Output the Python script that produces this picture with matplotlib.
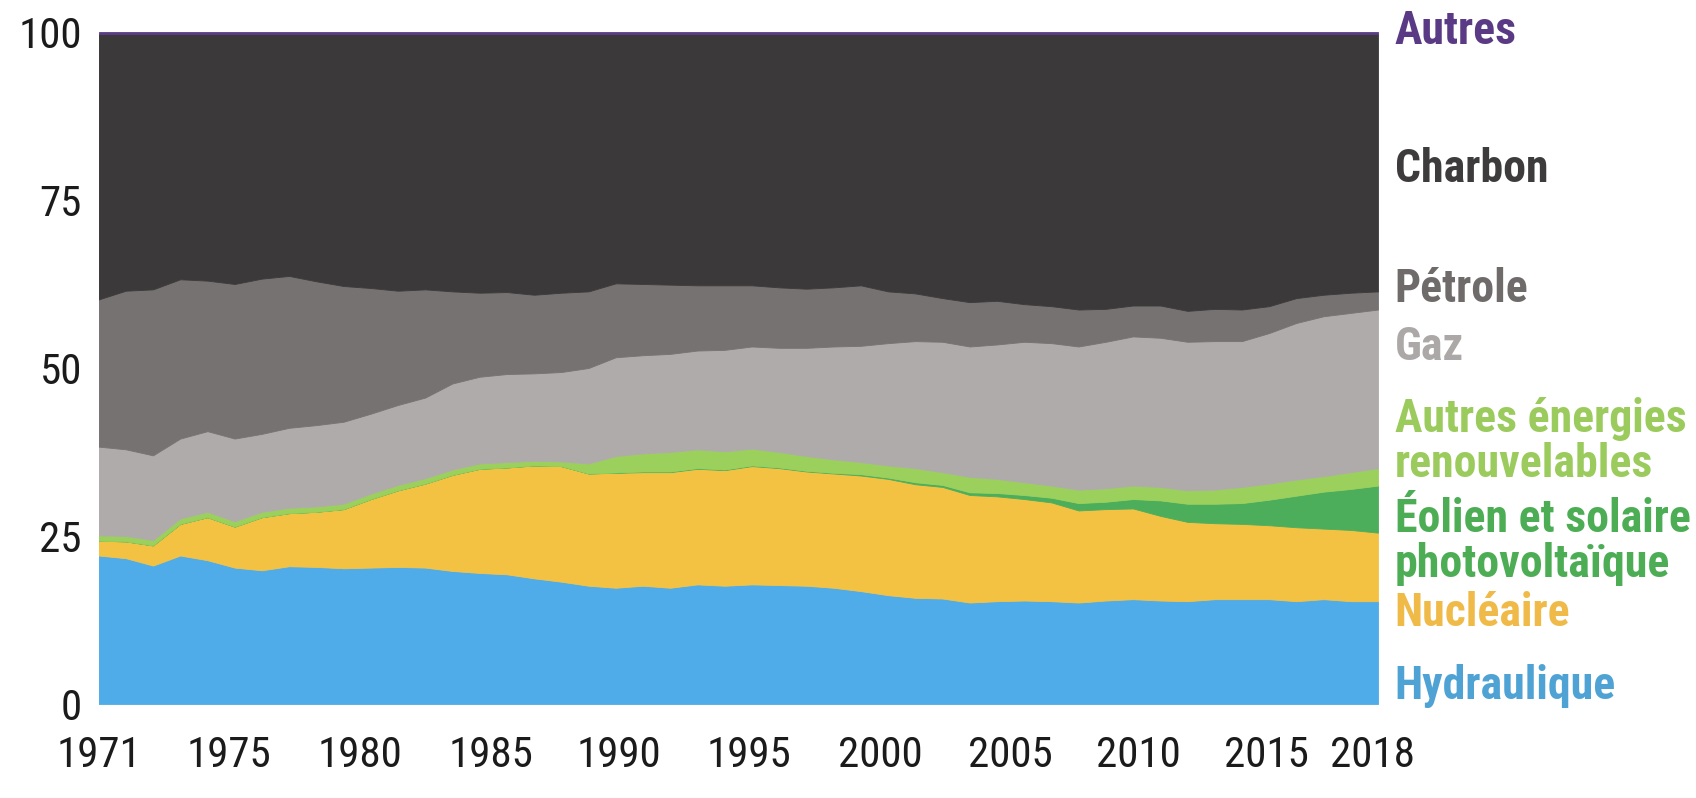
import numpy as np
import matplotlib
matplotlib.use("Agg")
import matplotlib.pyplot as plt
from matplotlib import font_manager

# pick a narrow face if one is installed
fonts = [(f.name, f.stretch) for f in font_manager.fontManager.ttflist]
narrow = None
for name in ['Liberation Sans Narrow', 'Roboto Condensed', 'Open Sans Condensed',
             'Noto Sans Condensed', 'DejaVu Sans Condensed']:
    if any(n == name for n, s in fonts):
        narrow = name
        break
stretch = 'normal'
if narrow is None:
    if any(n == 'DejaVu Sans' and s == 'condensed' for n, s in fonts):
        narrow = 'DejaVu Sans'
        stretch = 'condensed'
    elif any(n == 'Noto Sans' and s in ('condensed', 'semi-condensed', 'extra-condensed') for n, s in fonts):
        narrow = 'Noto Sans'
        stretch = 'condensed'
    else:
        narrow = 'DejaVu Sans'
plt.rcParams['font.family'] = [narrow, 'DejaVu Sans']
plt.rcParams['font.stretch'] = stretch

# share of world electricity generation (%), 1971-2018
years = list(range(1971, 2019))

hydro = [22.1, 21.7, 20.6, 22.1, 21.4, 20.3, 19.9, 20.5, 20.4, 20.2,
         20.3, 20.4, 20.3, 19.8, 19.5, 19.3, 18.7, 18.2, 17.6, 17.3,
         17.6, 17.3, 17.8, 17.6, 17.8, 17.7, 17.6, 17.3, 16.8, 16.2,
         15.8, 15.7, 15.1, 15.3, 15.4, 15.3, 15.1, 15.4, 15.6, 15.4,
         15.3, 15.6, 15.6, 15.6, 15.3, 15.6, 15.3, 15.3]
nuclear = [2.2, 2.5, 3.0, 4.7, 6.4, 6.1, 7.9, 7.9, 8.2, 8.8,
           10.2, 11.4, 12.5, 14.3, 15.5, 15.9, 16.8, 17.2, 16.7, 17.1,
           16.9, 17.2, 17.2, 17.2, 17.6, 17.4, 17.0, 17.0, 17.2, 17.3,
           16.9, 16.6, 16.0, 15.6, 15.1, 14.7, 13.7, 13.6, 13.5, 12.6,
           11.8, 11.3, 11.2, 11.0, 11.0, 10.5, 10.6, 10.2]
wind_solar = [0, 0, 0, 0, 0, 0, 0, 0, 0, 0,
              0, 0, 0, 0, 0, 0, 0, 0, 0, 0.05,
              0.1, 0.1, 0.1, 0.1, 0.1, 0.1, 0.1, 0.1, 0.2, 0.2,
              0.3, 0.3, 0.4, 0.5, 0.6, 0.7, 1.1, 1.1, 1.4, 2.3,
              2.7, 2.9, 3.1, 3.8, 4.7, 5.5, 6.1, 7.0]
other_ren = [0.8, 0.8, 0.8, 0.8, 0.8, 0.8, 0.8, 0.8, 0.8, 0.8,
             0.8, 0.8, 0.8, 0.8, 0.8, 0.8, 0.7, 0.7, 1.5, 2.45,
             2.7, 2.9, 2.8, 2.7, 2.5, 2.3, 2.2, 2.0, 1.8, 1.8,
             2.1, 1.9, 2.3, 2.1, 1.9, 1.8, 2.0, 2.0, 2.0, 2.0,
             2.0, 2.1, 2.4, 2.4, 2.4, 2.3, 2.5, 2.6]
gas = [13.2, 12.9, 12.6, 11.9, 12.0, 12.3, 11.6, 11.9, 12.1, 12.2,
       11.9, 11.9, 12.0, 12.8, 12.9, 13.1, 13.0, 13.3, 14.2, 14.7,
       14.6, 14.6, 14.7, 15.1, 15.2, 15.5, 16.1, 16.8, 17.3, 18.2,
       18.9, 19.4, 19.4, 20.0, 20.9, 21.2, 21.3, 21.8, 22.2, 22.2,
       22.1, 22.1, 21.7, 22.4, 23.3, 23.8, 23.7, 23.6]
oil = [21.9, 23.6, 24.7, 23.7, 22.4, 23.0, 23.1, 22.6, 21.4, 20.2,
       18.7, 17.0, 16.1, 13.7, 12.5, 12.2, 11.7, 11.8, 11.4, 11.0,
       10.6, 10.3, 9.7, 9.6, 9.1, 9.0, 8.8, 8.8, 9.0, 7.7,
       7.1, 6.5, 6.6, 6.5, 5.6, 5.5, 5.5, 4.9, 4.6, 4.8,
       4.6, 4.8, 4.7, 4.0, 3.7, 3.2, 3.0, 2.7]
coal = [39.5, 38.2, 38.0, 36.5, 36.7, 37.2, 36.4, 36.0, 36.8, 37.5,
        37.8, 38.2, 38.0, 38.3, 38.5, 38.4, 38.8, 38.5, 38.3, 37.1,
        37.2, 37.3, 37.4, 37.4, 37.4, 37.7, 37.9, 37.7, 37.4, 38.3,
        38.6, 39.3, 39.9, 39.7, 40.2, 40.5, 41.0, 40.9, 40.4, 40.4,
        41.2, 40.9, 41.0, 40.5, 39.3, 38.8, 38.5, 38.3]
others = [0.3, 0.3, 0.3, 0.3, 0.3, 0.3, 0.3, 0.3, 0.3, 0.3,
          0.3, 0.3, 0.3, 0.3, 0.3, 0.3, 0.3, 0.3, 0.3, 0.3,
          0.3, 0.3, 0.3, 0.3, 0.3, 0.3, 0.3, 0.3, 0.3, 0.3,
          0.3, 0.3, 0.3, 0.3, 0.3, 0.3, 0.3, 0.3, 0.3, 0.3,
          0.3, 0.3, 0.3, 0.3, 0.3, 0.3, 0.3, 0.3]

series = [hydro, nuclear, wind_solar, other_ren, gas, oil, coal, others]
fill_colors = ['#4FACE9', '#F4C243', '#4CAE5A', '#9CD05C',
               '#AEABAA', '#767271', '#3B393A', '#5B3D87']

labels = ['Hydraulique', 'Nucléaire', 'Éolien et solaire\nphotovoltaïque',
          'Autres énergies\nrenouvelables', 'Gaz', 'Pétrole', 'Charbon', 'Autres']
label_colors = ['#4FA3D4', '#F0BA48', '#4CAD55', '#9BCB5C',
                '#ABA8A7', '#6F6B6A', '#3D3B3C', '#5A3A84']
# baseline of the (last) line of each label, in data units
label_y = [0.8, 11.6, 18.9, 33.8, 51.2, 59.8, 77.7, 98.2]

# tick labels as placed in the original (evenly spaced)
tick_pos = [1971.0, 1975.8, 1980.6, 1985.4, 1990.1, 1994.9,
            1999.7, 2004.5, 2009.2, 2013.9, 2017.8]
tick_lab = ['1971', '1975', '1980', '1985', '1990', '1995',
            '2000', '2005', '2010', '2015', '2018']

# sizes depend on how narrow the face is
if narrow == 'DejaVu Sans' and stretch == 'normal':
    tick_size, lab_size = 27, 22
else:
    tick_size, lab_size = 31, 33

fig = plt.figure(figsize=(16.96, 7.98), dpi=100)
ax = fig.add_axes([0.0581, 0.1178, 0.7544, 0.8421])

polys = ax.stackplot(years, *series, colors=fill_colors, linewidth=0)
for p, c in zip(polys, fill_colors):
    p.set_edgecolor(c)
    p.set_linewidth(0.6)

ax.set_xlim(1971, 2018)
ax.set_ylim(0, 100)
for s in ax.spines.values():
    s.set_visible(False)

ax.set_yticks([0, 25, 50, 75, 100])
ax.set_xticks(tick_pos)
ax.set_xticklabels(tick_lab)
ax.tick_params(axis='both', length=0, labelsize=tick_size, colors='#1b1b1b')
ax.tick_params(axis='y', pad=12)
ax.tick_params(axis='x', pad=22)

for lab, col, y in zip(labels, label_colors, label_y):
    ax.text(1.013, y, lab, transform=ax.get_yaxis_transform(),
            color=col, fontsize=lab_size, fontweight='bold',
            va='baseline', ha='left', linespacing=1.02)

fig.savefig('out.png', dpi=100)
